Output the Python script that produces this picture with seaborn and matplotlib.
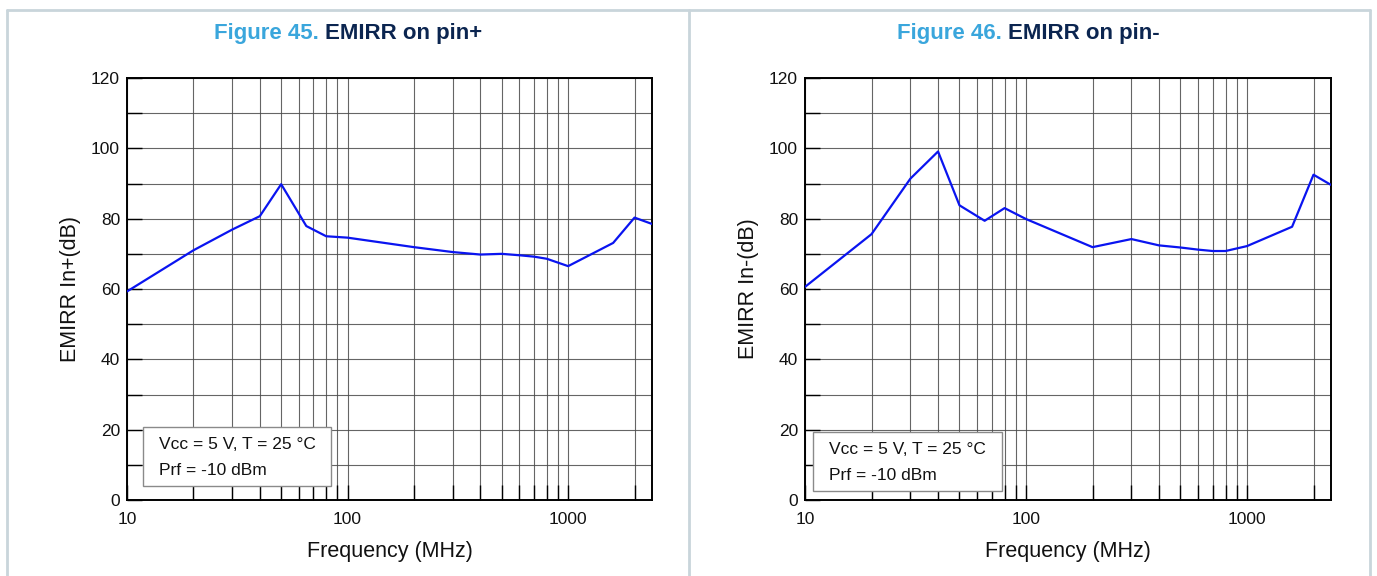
import numpy as np
import pandas as pd
import matplotlib
matplotlib.use("Agg")
import matplotlib.pyplot as plt
from matplotlib.lines import Line2D
from matplotlib.patches import Rectangle
from matplotlib.ticker import LogLocator, FixedLocator, NullFormatter, FixedFormatter
import seaborn as sns

# ---------------- data ----------------
freq_pos = [10, 20, 30, 40, 50, 65, 80, 100, 200, 300, 400, 500, 600, 700, 800, 1000, 1600, 2000, 2400]
emirr_pos = [59.3, 71.0, 76.9, 80.7, 89.8, 77.9, 75.0, 74.6, 71.9, 70.5, 69.8, 70.0, 69.6, 69.2, 68.6, 66.5, 73.1, 80.3, 78.5]

freq_neg = [10, 20, 30, 40, 50, 65, 80, 100, 200, 300, 400, 500, 600, 700, 800, 1000, 1600, 2000, 2400]
emirr_neg = [60.6, 75.6, 91.4, 99.1, 83.8, 79.4, 83.0, 79.9, 71.9, 74.2, 72.4, 71.8, 71.2, 70.8, 70.8, 72.2, 77.7, 92.5, 89.6]

x_ticks = [10, 100, 1000]
x_tick_labels = ["10", "100", "1000"]
y_ticks = [0, 20, 40, 60, 80, 100, 120]
fig_numbers = ["Figure 45.", "Figure 46."]
fig_titles = ["EMIRR on pin+", "EMIRR on pin-"]
y_labels = ["EMIRR In+(dB)", "EMIRR In-(dB)"]
x_label = "Frequency (MHz)"
note_lines = ["Vcc = 5 V, T = 25 °C", "Prf = -10 dBm"]

# ---------------- style ----------------
sns.set_style("white")
plt.rcParams["font.family"] = ["Liberation Sans", "DejaVu Sans"]

W, H = 1377, 576
fig = plt.figure(figsize=(W / 100, H / 100), dpi=100)

panels = [
    dict(df=pd.DataFrame({"freq": freq_pos, "emirr": emirr_pos}),
         rect=[127 / W, 1 - 500 / H, 525 / W, 422 / H],
         box=(0.030, 0.033, 0.359, 0.140), ylabel=y_labels[0],
         num=fig_numbers[0], title=fig_titles[0]),
    dict(df=pd.DataFrame({"freq": freq_neg, "emirr": emirr_neg}),
         rect=[805 / W, 1 - 500 / H, 526 / W, 422 / H],
         box=(0.015, 0.021, 0.360, 0.140), ylabel=y_labels[1],
         num=fig_numbers[1], title=fig_titles[1]),
]

grid_color = "#4a4a4a"
for p in panels:
    ax = fig.add_axes(p["rect"])
    sns.lineplot(data=p["df"], x="freq", y="emirr", ax=ax, color="#0A14F0",
                 linewidth=1.6, zorder=5)
    ax.set_xscale("log")
    ax.set_xlim(10, 2400)
    ax.set_ylim(0, 120)

    ax.xaxis.set_major_locator(FixedLocator(x_ticks))
    ax.xaxis.set_major_formatter(FixedFormatter(x_tick_labels))
    ax.xaxis.set_minor_locator(LogLocator(base=10, subs=np.arange(2, 10), numticks=20))
    ax.xaxis.set_minor_formatter(NullFormatter())
    ax.set_yticks(y_ticks)
    ax.set_yticks(np.arange(10, 120, 20), minor=True)

    ax.grid(True, which="both", color=grid_color, linewidth=0.8, alpha=0.85)
    ax.tick_params(axis="both", which="both", direction="in", length=11, width=1.0,
                   color="black", labelsize=12.5, labelcolor="#111111",
                   bottom=True, left=True, top=False, right=False)
    ax.tick_params(axis="x", pad=9)
    ax.tick_params(axis="y", pad=5)
    for s in ax.spines.values():
        s.set_color("black")
        s.set_linewidth(1.4)

    ax.set_xlabel(x_label, fontsize=15.5, labelpad=10, color="#111111")
    ax.set_ylabel(p["ylabel"], fontsize=15.5, labelpad=7, color="#111111")

    bx, by, bw, bh = p["box"]
    ax.add_patch(Rectangle((bx, by), bw, bh, transform=ax.transAxes,
                           facecolor="white", edgecolor="#8a8a8a", linewidth=1.0,
                           zorder=6))
    ax.text(bx + 0.031, by + bh * 0.71, note_lines[0], transform=ax.transAxes,
            fontsize=12.5, va="center", ha="left", zorder=7, color="#111111")
    ax.text(bx + 0.031, by + bh * 0.27, note_lines[1], transform=ax.transAxes,
            fontsize=12.5, va="center", ha="left", zorder=7, color="#111111")

    p["ax"] = ax

# ---------------- titles ----------------
fig.canvas.draw()
renderer = fig.canvas.get_renderer()
for p, cx in zip(panels, [348 / W, 1028 / W]):
    t1 = fig.text(0, 1 - 33 / H, p["num"] + " ", fontsize=16, fontweight="bold",
                  color="#3AA6DC", va="center", ha="left")
    t2 = fig.text(0, 1 - 33 / H, p["title"], fontsize=16, fontweight="bold",
                  color="#0B2550", va="center", ha="left")
    w1 = t1.get_window_extent(renderer).width / W
    w2 = t2.get_window_extent(renderer).width / W
    x0 = cx - (w1 + w2) / 2
    t1.set_x(x0)
    t2.set_x(x0 + w1)

# ---------------- frame lines ----------------
bc = "#C9D5DB"
top = 1 - 10 / H
for line in [
    ([7 / W, 1370 / W], [top, top]),
    ([7 / W, 7 / W], [0, top]),
    ([689 / W, 689 / W], [0, top]),
    ([1370 / W, 1370 / W], [0, top]),
]:
    fig.add_artist(Line2D(line[0], line[1], transform=fig.transFigure,
                          color=bc, linewidth=2.0))

fig.savefig("out.png", dpi=100, facecolor="white")
